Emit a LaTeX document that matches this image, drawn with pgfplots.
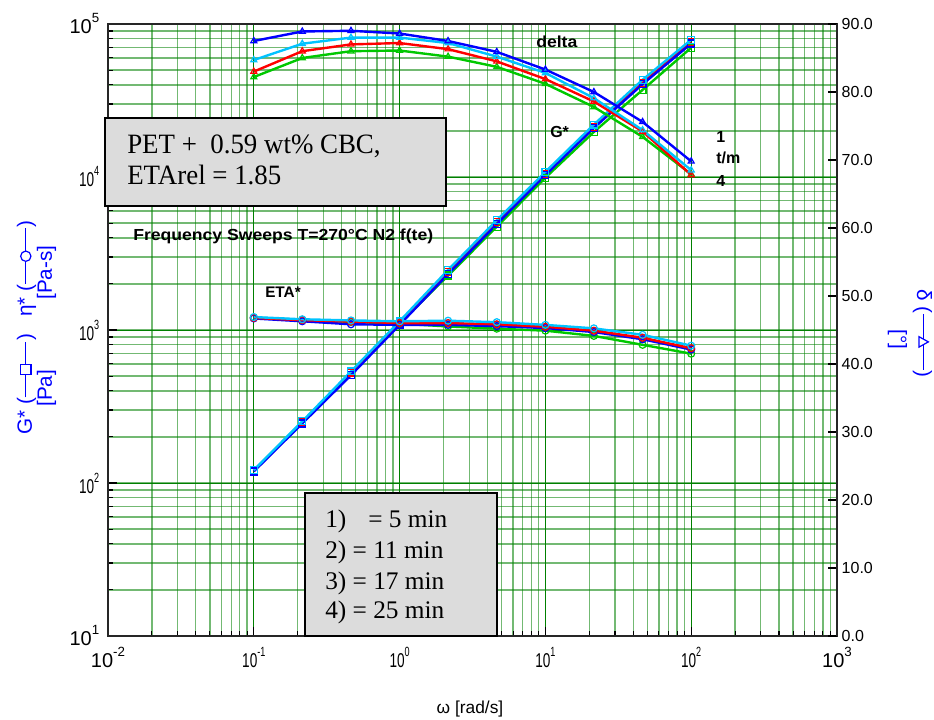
\documentclass[border=0pt]{standalone}
\usepackage{fontspec}
\setmainfont{Liberation Serif}
\setsansfont{Liberation Sans}
\usepackage{graphicx}
\usepackage{pgfplots}
\usepackage{pgfplotstable}
\pgfplotsset{compat=1.18}

\definecolor{cBlue}{RGB}{0,0,255}
\definecolor{cCyan}{RGB}{0,195,255}
\definecolor{cRed}{RGB}{255,0,0}
\definecolor{cGreen}{RGB}{0,200,0}
\definecolor{gridG}{RGB}{0,128,0}
\definecolor{boxG}{RGB}{220,220,220}

% tick labels: 10^n, the inner ones narrower as in the original
\newcommand\tl[2]{\mbox{\sffamily\fontsize{15}{16}\selectfont #1\raisebox{0.55em}{\fontsize{10}{10}\selectfont #2}}}
\newcommand\tlc[2]{\scalebox{0.68}[1]{\tl{#1}{#2}}}
% line-with-marker symbols for the axis titles
\newcommand\lsym[1]{\tikz[baseline=0pt]{\draw[line width=0.9pt] (0,0.3em) -- (2.7em,0.3em);
  \draw[line width=0.9pt, fill=white] (1.35em,0.3em) #1;}}

% omega [rad/s], G* [Pa], eta* [Pa-s], delta [deg]
\pgfplotstableread{
w      G      eta   d
0.1    119    1190  87.5
0.215  245    1140  88.9
0.464  506    1090  89.0
1      1080   1080  88.6
2.15   2320   1080  87.5
4.64   4920   1060  85.9
10     10300  1030  83.3
21.5   20900  970   80.0
46.4   40400  870   75.6
100    74500  745   69.8
}\tblA
\pgfplotstableread{
w      G      eta   d
0.1    121.5  1215  84.7
0.215  253    1175  87.1
0.464  536    1155  88.0
1      1140   1140  88.0
2.15   2470   1150  87.2
4.64   5220   1125  85.2
10     10800  1080  82.8
21.5   22000  1025  79.1
46.4   43200  930   74.4
100    79000  790   68.5
}\tblB
\pgfplotstableread{
w      G      eta   d
0.1    120    1200  83.0
0.215  249    1160  86.0
0.464  527    1135  87.0
1      1110   1110  87.2
2.15   2390   1110  86.3
4.64   5060   1090  84.5
10     10500  1050  81.9
21.5   21300  990   78.6
46.4   41300  890   74.2
100    76000  760   67.8
}\tblC
\pgfplotstableread{
w      G      eta   d
0.1    120.5  1205  82.2
0.215  250    1165  85.0
0.464  524    1130  86.0
1      1100   1100  86.1
2.15   2270   1055  85.2
4.64   4730   1020  83.7
10     9900   990   81.2
21.5   19700  915   77.8
46.4   37100  800   73.4
100    70000  700   67.9
}\tblD

\pgfplotsset{ser/.style={#1, line width=1.8pt, mark size=2.6pt,
  mark options={line width=0.9pt, solid}}}

\begin{document}
\begin{tikzpicture}
\useasboundingbox (-81pt,-63pt) rectangle (619.5pt,477pt);
\begin{axis}[
  at={(0,0)}, anchor=south west, scale only axis,
  width=546.75pt, height=459pt,
  xmode=log, ymode=log,
  xmin=0.01, xmax=1000, ymin=10, ymax=100000,
  axis line style={line width=1pt, black!85},
  grid=both,
  major grid style={gridG, line width=0.7pt},
  minor grid style={gridG, opacity=0.55, line width=1pt},
  tick align=inside,
  major tick length=7pt, minor tick length=4pt,
  every tick/.style={black, line width=0.8pt},
  xtick pos=lower, ytick pos=lower,
  xtick={0.01,0.1,1,10,100,1000},
  xticklabels={\tl{10}{-2},\tlc{10}{-1},\tlc{10}{0},\tlc{10}{1},\tlc{10}{2},\tl{10}{3}},
  ytick={10,100,1000,10000,100000},
  yticklabels={\tl{10}{1},\tlc{10}{2},\tlc{10}{3},\tlc{10}{4},\tl{10}{5}},
  yticklabel style={xshift=-3pt},
  xticklabel style={yshift=-5pt},
]
\addplot[ser=cGreen, mark=square] table[x=w,y=G] \tblD;
\addplot[ser=cRed,   mark=square] table[x=w,y=G] \tblC;
\addplot[ser=cBlue,  mark=square] table[x=w,y=G] \tblA;
\addplot[ser=cCyan,  mark=square] table[x=w,y=G] \tblB;
\addplot[ser=cGreen, mark=o] table[x=w,y=eta] \tblD;
\addplot[ser=cBlue,  mark=o] table[x=w,y=eta] \tblA;
\addplot[ser=cRed,   mark=o] table[x=w,y=eta] \tblC;
\addplot[ser=cCyan,  mark=o] table[x=w,y=eta] \tblB;
\end{axis}

\begin{axis}[
  at={(0,0)}, anchor=south west, scale only axis,
  width=546.75pt, height=459pt,
  xmode=log, xmin=0.01, xmax=1000,
  ymin=0, ymax=90,
  axis x line=none, axis y line*=right,
  axis line style={line width=1pt, black!85},
  ytick={0,10,...,90},
  tick align=inside, major tick length=7pt,
  every tick/.style={black, line width=0.8pt},
  yticklabel style={font=\sffamily\fontsize{12}{12}\selectfont,
    /pgf/number format/.cd, fixed, fixed zerofill, precision=1, assume math mode=true},
]
\addplot[ser=cGreen, mark=triangle] table[x=w,y=d] \tblD;
\addplot[ser=cRed,   mark=triangle] table[x=w,y=d] \tblC;
\addplot[ser=cCyan,  mark=triangle] table[x=w,y=d] \tblB;
\addplot[ser=cBlue,  mark=triangle] table[x=w,y=d] \tblA;
\end{axis}

% annotations, placed in pixel units of the 934x720 reference
\begin{scope}[x=0.75pt, y=-0.75pt, shift={(-81pt,477pt)}]
  \draw[line width=1.5pt, fill=boxG] (105,118) rectangle (446,206);
  \node[anchor=base west, inner sep=0] at (127,154)
    {\scalebox{0.96}[1]{\fontsize{21}{22}\selectfont PET +\ \ 0.59 wt\% CBC,}};
  \node[anchor=base west, inner sep=0] at (127,185)
    {\scalebox{0.96}[1]{\fontsize{21}{22}\selectfont ETArel = 1.85}};

  \draw[line width=1.5pt, fill=boxG] (305,493) rectangle (497,636);
  \begin{scope}[every node/.style={anchor=base west, inner sep=0, font=\fontsize{19}{19}\selectfont}]
    \node at (325,528) {1)};
    \node at (368,528) {= 5 min};
    \node at (325,559) {2) = 11 min};
    \node at (325,590) {3) = 17 min};
    \node at (325,619) {4) = 25 min};
  \end{scope}

  \begin{scope}[every node/.style={anchor=base west, inner sep=0, font=\sffamily\bfseries\fontsize{12}{12}\selectfont}]
    \node at (536,48) {\scalebox{1.1}[1]{delta}};
    \node at (550,138) {G*};
    \node at (716,143) {1};
    \node at (716,164) {t/m};
    \node at (716,187) {4};
    \node at (265,298) {\fontsize{11.5}{12}\selectfont ETA*};
    \node at (133,241) {\scalebox{1.1}[1]{\fontsize{12}{12}\selectfont Frequency Sweeps T=270°C N2 f(te)}};
  \end{scope}

  \begin{scope}[every node/.style={inner sep=0, text=cBlue, font=\sffamily\fontsize{15.5}{16}\selectfont}]
    \node[rotate=90, anchor=base west] at (32,435)
      {G* (\lsym{++(-0.25em,-0.25em) rectangle ++(0.5em,0.5em)}) \ \ η* (\lsym{circle (0.25em)})};
    \node[rotate=90, anchor=base west] at (52,407) {[Pa]};
    \node[rotate=90, anchor=base west] at (52,300) {[Pa-s]};
    \node[rotate=-90, anchor=base west] at (892,329) {[°]};
    \node[rotate=-90, anchor=base west] at (917,289)
      {δ (\lsym{++(-0.25em,-0.2em) -- ++(0.5em,0) -- ++(-0.25em,0.45em) -- cycle})};
  \end{scope}

  \node[font=\sffamily\fontsize{13}{13}\selectfont, anchor=base] at (470,713) {ω [rad/s]};
\end{scope}
\end{tikzpicture}
\end{document}
